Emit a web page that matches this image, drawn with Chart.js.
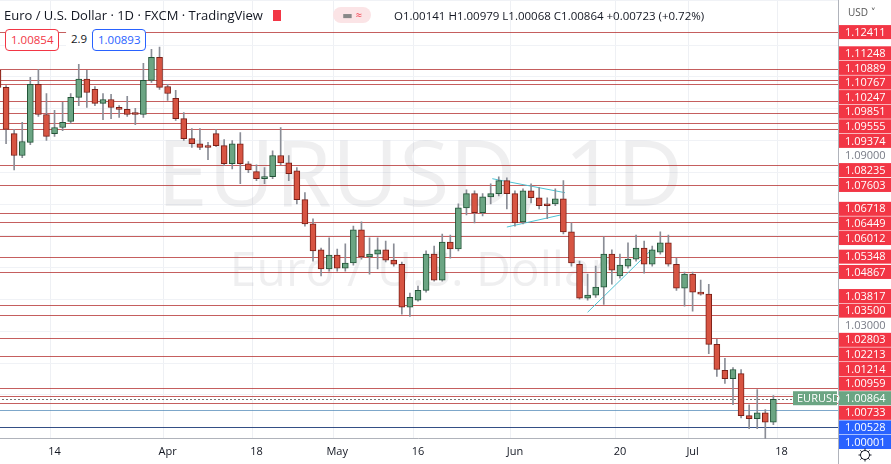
<!DOCTYPE html>
<html>
<head>
<meta charset="utf-8">
<script src="https://cdn.jsdelivr.net/npm/chart.js@4/dist/chart.umd.min.js"></script>
<style>
  html, body { margin: 0; padding: 0; background: #fff; overflow: hidden; }
  #wrap { position: relative; width: 891px; height: 464px; overflow: hidden; font-family: "Open Sans", "DejaVu Sans", sans-serif; }
  canvas { position: absolute; left: -8px; top: 0; }
  .hdr { position: absolute; left: 4px; top: 6px; font-size: 13px; color: #131722; white-space: nowrap; }
  .ohlc { position: absolute; left: 394px; top: 8px; font-size: 11.5px; color: #131722; }
  .box { position: absolute; top: 29px; height: 20px; line-height: 20px; font-size: 11.5px; padding: 0 5px; border-radius: 4px; background: #fff; }
  .flag { display: inline-block; width: 8px; height: 11px; background: #f23645; margin-left: 10px; vertical-align: -1px; }
  .pill { position: absolute; left: 333px; top: 7px; width: 38px; height: 16px; border-radius: 8px; background: #fbe4e6; font-size: 11px; color: #f23645; text-align: center; line-height: 16px; }
  .usd { position: absolute; left: 848px; top: 5px; font-size: 10px; color: #555; }
</style>
</head>
<body>
<div id="wrap">
  <canvas id="chart" width="899" height="464"></canvas>
  <div class="hdr">Euro / U.S. Dollar · 1D · FXCM · TradingView<span class="flag"></span></div>
  <div class="pill"><span style="color:#888">▬</span> ≈</div>
  <div class="ohlc">O1.00141 H1.00979 L1.00068 C1.00864 +0.00723 (+0.72%)</div>
  <div class="box" style="left:5px;border:1px solid #f23645;color:#f23645;">1.00854</div>
  <div class="box" style="left:66px;color:#131722;">2.9</div>
  <div class="box" style="left:92px;border:1px solid #2962ff;color:#2962ff;">1.00893</div>
  <div class="usd">USD ˅</div>
</div>
<script>
// Daily EUR/USD candles, 3 Mar - 15 Jul 2022
const opens = [
  1.1121, 1.1067, 1.0922, 1.0853, 1.0894, 1.1077, 1.0982, 1.0922, 1.0941, 1.0960,
  1.1036, 1.1093, 1.1061, 1.1017, 1.1029, 1.1004, 1.0998, 1.0985, 1.0982, 1.1089,
  1.1162, 1.1070, 1.1033, 1.0969, 1.0906, 1.0890, 1.0881, 1.0922, 1.0884, 1.0827,
  1.0890, 1.0827, 1.0802, 1.0780, 1.0786, 1.0853, 1.0830, 1.0805, 1.0714, 1.0638,
  1.0556, 1.0496, 1.0540, 1.0499, 1.0515, 1.0619, 1.0534, 1.0543, 1.0556, 1.0524,
  1.0511, 1.0376, 1.0398, 1.0429, 1.0543, 1.0461, 1.0581, 1.0559, 1.0688, 1.0733,
  1.0673, 1.0723, 1.0733, 1.0774, 1.0733, 1.0644, 1.0742, 1.0720, 1.0701, 1.0701,
  1.0717, 1.0613, 1.0511, 1.0404, 1.0414, 1.0439, 1.0543, 1.0474, 1.0505, 1.0527,
  1.0562, 1.0511, 1.0549, 1.0578, 1.0511, 1.0436, 1.0480, 1.0420, 1.0417, 1.0259,
  1.0177, 1.0151, 1.0167, 1.0035, 1.0025, 1.0044, 1.00141
];
const highs = [
  1.1133, 1.1073, 1.0935, 1.0957, 1.1099, 1.1124, 1.1048, 1.0995, 1.1020, 1.1048,
  1.1140, 1.1121, 1.1070, 1.1048, 1.1045, 1.1010, 1.1039, 1.1001, 1.1143, 1.1187,
  1.1194, 1.1077, 1.1058, 1.0988, 1.0938, 1.0938, 1.0894, 1.0935, 1.0903, 1.0900,
  1.0925, 1.0834, 1.0824, 1.0815, 1.0868, 1.0941, 1.0853, 1.0815, 1.0736, 1.0654,
  1.0562, 1.0594, 1.0559, 1.0575, 1.0631, 1.0644, 1.0594, 1.0594, 1.0584, 1.0575,
  1.0518, 1.0420, 1.0442, 1.0553, 1.0568, 1.0606, 1.0603, 1.0701, 1.0745, 1.0742,
  1.0733, 1.0764, 1.0786, 1.0783, 1.0742, 1.0748, 1.0764, 1.0752, 1.0720, 1.0748,
  1.0774, 1.0641, 1.0521, 1.0480, 1.0505, 1.0597, 1.0556, 1.0543, 1.0578, 1.0603,
  1.0584, 1.0568, 1.0613, 1.0603, 1.0530, 1.0486, 1.0486, 1.0461, 1.0448, 1.0275,
  1.0215, 1.0186, 1.0180, 1.0069, 1.0117, 1.0054, 1.00979
];
const lows = [
  1.1058, 1.0890, 1.0808, 1.0846, 1.0887, 1.0976, 1.0900, 1.0913, 1.0931, 1.0954,
  1.1010, 1.1004, 1.1010, 1.0966, 1.0969, 1.0973, 1.0976, 1.0950, 1.0973, 1.1083,
  1.1061, 1.1026, 1.0963, 1.0900, 1.0878, 1.0871, 1.0840, 1.0881, 1.0821, 1.0811,
  1.0764, 1.0799, 1.0774, 1.0764, 1.0780, 1.0824, 1.0774, 1.0701, 1.0631, 1.0521,
  1.0474, 1.0489, 1.0489, 1.0489, 1.0508, 1.0527, 1.0480, 1.0496, 1.0518, 1.0505,
  1.0354, 1.0347, 1.0395, 1.0423, 1.0458, 1.0458, 1.0530, 1.0553, 1.0666, 1.0641,
  1.0663, 1.0701, 1.0726, 1.0685, 1.0631, 1.0638, 1.0704, 1.0685, 1.0654, 1.0695,
  1.0606, 1.0505, 1.0401, 1.0398, 1.0407, 1.0385, 1.0448, 1.0467, 1.0499, 1.0521,
  1.0483, 1.0505, 1.0543, 1.0505, 1.0429, 1.0379, 1.0363, 1.0414, 1.0230, 1.0158,
  1.0136, 1.0069, 1.0028, 0.9994, 0.9994, 0.9952, 1.00068
];
const closes = [
  1.1067, 1.0935, 1.0853, 1.0897, 1.1077, 1.0982, 1.0913, 1.0941, 1.0957, 1.1036,
  1.1093, 1.1051, 1.1017, 1.1029, 1.1004, 1.0998, 1.0982, 1.0982, 1.1089, 1.1162,
  1.1067, 1.1048, 1.0969, 1.0906, 1.0890, 1.0878, 1.0878, 1.0884, 1.0827, 1.0890,
  1.0827, 1.0808, 1.0780, 1.0786, 1.0853, 1.0830, 1.0796, 1.0714, 1.0638, 1.0553,
  1.0496, 1.0540, 1.0499, 1.0515, 1.0619, 1.0534, 1.0543, 1.0556, 1.0524, 1.0511,
  1.0376, 1.0407, 1.0429, 1.0543, 1.0461, 1.0581, 1.0559, 1.0688, 1.0733, 1.0673,
  1.0723, 1.0733, 1.0774, 1.0733, 1.0641, 1.0742, 1.0720, 1.0695, 1.0695, 1.0717,
  1.0613, 1.0515, 1.0404, 1.0414, 1.0439, 1.0543, 1.0492, 1.0508, 1.0527, 1.0562,
  1.0511, 1.0556, 1.0578, 1.0511, 1.0436, 1.0480, 1.0423, 1.0417, 1.0259, 1.0180,
  1.0151, 1.0180, 1.0035, 1.0025, 1.0044, 1.00141, 1.00864
];

// horizontal levels drawn on the chart
const redLevels = [1.12411, 1.11248, 1.10889, 1.10767, 1.10247, 1.09851, 1.09555, 1.09374,
  1.08235, 1.07603, 1.06718, 1.06449, 1.06012, 1.05348, 1.04867, 1.03817, 1.03500,
  1.02803, 1.02213, 1.01214, 1.00959, 1.00733];
const blueLevels = [1.00528, 1.00001];
const greyLevels = [1.09000, 1.03000];
const lastPrice = 1.00864;

// trend lines [index1, price1, index2, price2]
const trendLines = [
  [61.2, 1.0780, 70.2, 1.0736],
  [63.0, 1.0628, 70.2, 1.0669],
  [73.0, 1.0360, 81.0, 1.0559]
];

// x-axis labels on given dates
const tickMarks = { '2022-03-14': '14', '2022-04-01': 'Apr', '2022-04-18': '18', '2022-05-02': 'May',
  '2022-05-16': '16', '2022-06-01': 'Jun', '2022-06-20': '20', '2022-07-01': 'Jul', '2022-07-18': '18' };

// weekday categories from 3 Mar, with some empty days after the last candle
const categories = [];
(function () {
  const d = new Date(Date.UTC(2022, 2, 3));
  while (categories.length < 105) {
    const wd = d.getUTCDay();
    if (wd !== 0 && wd !== 6) categories.push(d.toISOString().slice(0, 10));
    d.setUTCDate(d.getUTCDate() + 1);
  }
})();

const UP = '#6ba583', UP_EDGE = '#225437';
const DOWN = '#d75442', DOWN_EDGE = '#7a1f17';
const isUp = opens.map((o, i) => closes[i] >= o);
const CW = 899;

const overlay = {
  id: 'overlay',
  beforeDatasetsDraw(chart) {
    const { ctx, chartArea: a, scales: { x, y } } = chart;
    ctx.save();
    ctx.beginPath();
    ctx.rect(a.left, a.top, a.right - a.left, a.bottom - a.top);
    ctx.clip();
    // watermark
    ctx.fillStyle = 'rgba(120,123,134,0.12)';
    ctx.textAlign = 'center';
    ctx.textBaseline = 'middle';
    ctx.font = '92px "Open Sans", sans-serif';
    ctx.fillText('EURUSD, 1D', 428, 180);
    ctx.font = '48px "Open Sans", sans-serif';
    ctx.fillText('Euro / U.S. Dollar', 428, 272);
    ctx.lineWidth = 1;
    const hline = (v, col) => {
      const py = Math.round(y.getPixelForValue(v)) + 0.5;
      ctx.strokeStyle = col;
      ctx.beginPath(); ctx.moveTo(a.left, py); ctx.lineTo(a.right, py); ctx.stroke();
    };
    redLevels.forEach(v => hline(v, 'rgba(178,40,40,0.75)'));
    hline(blueLevels[0], 'rgba(70,130,180,0.7)');
    hline(blueLevels[1], 'rgba(30,60,120,0.9)');
    ctx.setLineDash([2, 2]);
    hline(lastPrice, 'rgba(60,60,60,0.7)');
    ctx.setLineDash([]);
    ctx.strokeStyle = '#4fc3d3';
    trendLines.forEach(t => {
      ctx.beginPath();
      ctx.moveTo(x.getPixelForValue(t[0]), y.getPixelForValue(t[1]));
      ctx.lineTo(x.getPixelForValue(t[2]), y.getPixelForValue(t[3]));
      ctx.stroke();
    });
    ctx.restore();
  },
  afterDraw(chart) {
    const { ctx, chartArea: a, scales: { y } } = chart;
    ctx.save();
    ctx.fillStyle = '#fff';
    ctx.fillRect(a.right, 0, CW - a.right, 464);
    ctx.strokeStyle = '#b0b3bb';
    ctx.beginPath(); ctx.moveTo(a.right + 0.5, 0); ctx.lineTo(a.right + 0.5, 464); ctx.stroke();
    // labels, pushed apart so they do not overlap
    const items = [];
    redLevels.forEach(v => items.push({ v, bg: '#f23645', fg: '#fff' }));
    items.push({ v: blueLevels[0], bg: '#2962ff', fg: '#fff' });
    items.push({ v: blueLevels[1], bg: '#2962ff', fg: '#fff' });
    greyLevels.forEach(v => items.push({ v, bg: null, fg: '#787b86' }));
    items.push({ v: lastPrice, bg: '#6ba583', fg: '#fff', last: true });
    items.forEach(it => it.py = y.getPixelForValue(it.v));
    items.sort((p, q) => p.py - q.py);
    const H = 14.6;
    for (let k = 0; k < 200; k++) {
      for (let i = 1; i < items.length; i++) {
        const d = items[i].py - items[i - 1].py;
        if (d < H) { const s = (H - d) / 2; items[i].py += s; items[i - 1].py -= s; }
      }
      items.forEach(it => { it.py = Math.min(Math.max(it.py, 26), 442); });
    }
    ctx.font = '11px "Open Sans", sans-serif';
    ctx.textBaseline = 'middle';
    ctx.textAlign = 'left';
    items.filter(it => !it.bg).concat(items.filter(it => it.bg)).forEach(it => {
      if (it.bg) { ctx.fillStyle = it.bg; ctx.fillRect(a.right + 1, it.py - 7, 52, 14); }
      ctx.fillStyle = it.fg;
      ctx.fillText(it.v.toFixed(5), a.right + 7, it.py + 0.5);
      if (it.last) {
        ctx.fillStyle = '#6ba583';
        ctx.fillRect(a.right - 45, it.py - 7, 44, 14);
        ctx.fillStyle = '#fff';
        ctx.fillText('EURUSD', a.right - 41, it.py + 0.5);
      }
    });
    // settings gear
    const gx = a.right + 27, gy = 455;
    ctx.strokeStyle = '#131722';
    ctx.beginPath(); ctx.arc(gx, gy, 4.5, 0, Math.PI * 2); ctx.stroke();
    for (let k = 0; k < 8; k++) {
      const an = k * Math.PI / 4;
      ctx.beginPath();
      ctx.moveTo(gx + Math.cos(an) * 4.5, gy + Math.sin(an) * 4.5);
      ctx.lineTo(gx + Math.cos(an) * 6.5, gy + Math.sin(an) * 6.5);
      ctx.stroke();
    }
    ctx.restore();
  }
};

new Chart(document.getElementById('chart').getContext('2d'), {
  type: 'bar',
  data: {
    labels: categories,
    datasets: [
      {
        data: opens.map((o, i) => [lows[i], highs[i]]),
        backgroundColor: '#8a8d96',
        barThickness: 1,
        grouped: false,
        order: 2
      },
      {
        data: opens.map((o, i) => [o, closes[i]]),
        backgroundColor: isUp.map(u => u ? UP : DOWN),
        borderColor: isUp.map(u => u ? UP_EDGE : DOWN_EDGE),
        borderWidth: 1,
        borderSkipped: false,
        barThickness: 6,
        minBarLength: 2,
        grouped: false,
        order: 1
      }
    ]
  },
  options: {
    responsive: false,
    animation: false,
    layout: { padding: { right: 53, top: 0, bottom: 0, left: 0 } },
    plugins: { legend: { display: false }, tooltip: { enabled: false } },
    scales: {
      x: {
        offset: false,
        grid: {
          color: ctx => (ctx.tick && tickMarks[categories[ctx.tick.value]]) ? '#eef0f4' : 'rgba(0,0,0,0)',
          drawTicks: false
        },
        border: { color: '#b0b3bb' },
        ticks: {
          autoSkip: false,
          maxRotation: 0,
          padding: 6,
          color: '#131722',
          font: { size: 11, family: '"Open Sans", sans-serif' },
          callback: (v) => tickMarks[categories[v]] || ''
        }
      },
      y: {
        position: 'right',
        min: 0.9962,
        max: 1.1342,
        grid: { color: '#f0f2f6', drawTicks: false },
        border: { display: false },
        ticks: { display: false, stepSize: 0.01 }
      }
    }
  },
  plugins: [overlay]
});
</script>
</body>
</html>
